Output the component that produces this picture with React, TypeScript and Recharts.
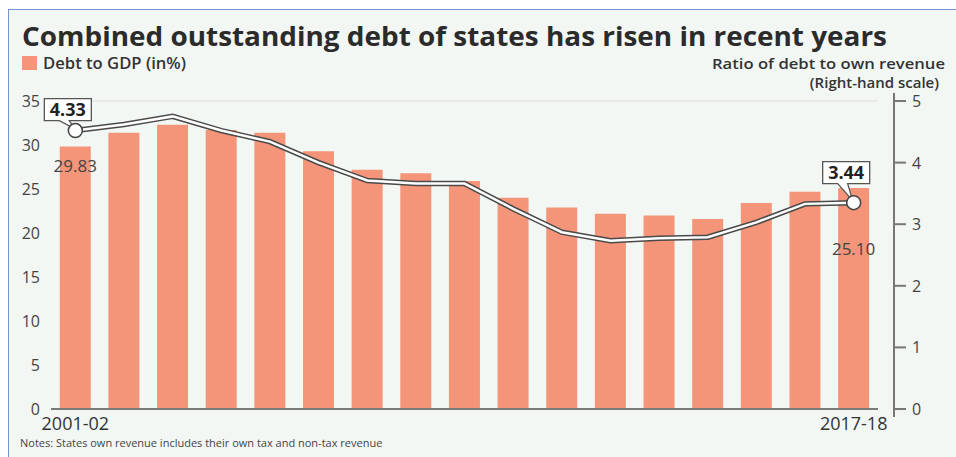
import React from "react";
import { ComposedChart, Bar, Line, XAxis, YAxis, CartesianGrid, LabelList } from "recharts";

const YEARS = [
  "2001-02", "2002-03", "2003-04", "2004-05", "2005-06", "2006-07", "2007-08", "2008-09", "2009-10",
  "2010-11", "2011-12", "2012-13", "2013-14", "2014-15", "2015-16", "2016-17", "2017-18",
];
// Debt to GDP (%), left scale
const DEBT_TO_GDP = [29.83, 31.4, 32.3, 31.7, 31.4, 29.3, 27.2, 26.8, 25.9, 24.0, 22.9, 22.2, 22.0, 21.6, 23.4, 24.7, 25.1];
// ratio of debt to own revenue, right scale (as drawn)
const DEBT_TO_REVENUE = [4.52, 4.62, 4.75, 4.52, 4.34, 4.0, 3.71, 3.66, 3.66, 3.25, 2.87, 2.73, 2.77, 2.79, 3.03, 3.33, 3.35];

const LEFT_TICKS = [0, 5, 10, 15, 20, 25, 30, 35];
const RIGHT_TICKS = [0, 1, 2, 3, 4, 5];
const X_TICKS = ["2001-02", "2017-18"];
const BAR_LABELS = [
  { index: 0, text: "29.83" },
  { index: 16, text: "25.10" },
];
const CALLOUTS = [
  { index: 0, text: "4.33" },
  { index: 16, text: "3.44" },
];

const W = 956;
const H = 457;
const PLOT = { left: 51, right: 878, top: 101, bottom: 409 };
const BAR_COLOR = "#f4957a";
const FONT = "'Open Sans', 'Noto Sans', sans-serif";

const data = YEARS.map((year, i) => ({
  year,
  gdp: DEBT_TO_GDP[i],
  ratio: DEBT_TO_REVENUE[i],
}));

// label offsets below the bar top, by index
const barLabelDy: Record<number, number> = { 0: 26, 16: 67 };
// lift of the callout box bottom above the point, by index
const calloutLift: Record<number, number> = { 0: 10, 16: 19 };

function BarValueLabel(props: any) {
  const { x, y, width, index } = props;
  const item = BAR_LABELS.find((b) => b.index === index);
  if (!item) return null;
  return (
    <text x={x + width / 2} y={y + barLabelDy[index]} textAnchor="middle" fontSize={17} fill="#444" fontFamily={FONT}>
      {item.text}
    </text>
  );
}

function Callout(props: any) {
  const { x, y, index } = props;
  const item = CALLOUTS.find((c) => c.index === index);
  if (!item) return null;
  const bw = 47;
  const bh = 22;
  const bx = x - 31;
  const bottom = y - calloutLift[index];
  const top = bottom - bh;
  const path = `M${bx},${top} H${bx + bw} V${bottom} H${x - 6} L${x - 1},${y - 2} L${x - 16},${bottom} H${bx} Z`;
  return (
    <g>
      <path d={path} fill="#fff" stroke="#555" strokeWidth={1.3} />
      <text x={bx + bw / 2} y={bottom - 5} textAnchor="middle" fontSize={18} fontWeight={700} fill="#222" fontFamily={FONT}>
        {item.text}
      </text>
      <circle cx={x} cy={y} r={7} fill="#fff" stroke="#444" strokeWidth={1.5} />
    </g>
  );
}

function XTick(props: any) {
  const { x, y, payload } = props;
  if (!X_TICKS.includes(payload.value)) return null;
  return (
    <text x={x} y={y} dy={13} textAnchor="middle" fontSize={18} fill="#333" fontFamily={FONT}>
      {payload.value}
    </text>
  );
}

function RightTick(props: any) {
  const { x, y, payload } = props;
  return (
    <g>
      <line x1={x + 15} x2={x + 28} y1={y} y2={y} stroke="#777" strokeWidth={2} />
      <text x={x + 34} y={y} dy={6} fontSize={16} fill="#444" fontFamily={FONT}>
        {payload.value}
      </text>
    </g>
  );
}

export default function App() {
  return (
    <div style={{ position: "fixed", left: 0, top: 0, width: W, height: H, overflow: "hidden", background: "#fff", fontFamily: FONT }}>
      <style>{"html,body{margin:0;overflow:hidden}"}</style>
      <div
        style={{
          position: "absolute",
          left: 8,
          top: 9,
          width: W,
          height: H,
          background: "#f3f7f4",
          borderLeft: "1.5px solid #7196cf",
          borderTop: "1.5px solid #7196cf",
        }}
      />
      <div style={{ position: "absolute", left: 0, top: 0 }}>
        <ComposedChart
          width={W}
          height={H}
          data={data}
          margin={{ top: PLOT.top, right: W - PLOT.right - 60, bottom: H - PLOT.bottom - 30, left: 0 }}
          barCategoryGap="18%"
        >
          <CartesianGrid vertical={false} stroke="#dcdedc" strokeWidth={1.2} />
          <XAxis
            dataKey="year"
            height={30}
            interval={0}
            tickLine={false}
            axisLine={{ stroke: "#7a7a7a", strokeWidth: 2 }}
            tick={<XTick />}
          />
          <YAxis
            yAxisId="left"
            width={51}
            domain={[0, 35]}
            ticks={LEFT_TICKS}
            axisLine={false}
            tickLine={false}
            tickMargin={5}
            tick={{ fill: "#444", fontSize: 16 }}
          />
          <YAxis
            yAxisId="right"
            orientation="right"
            width={60}
            domain={[0, 5]}
            ticks={RIGHT_TICKS}
            axisLine={false}
            tickLine={false}
            tickSize={0}
            tickMargin={0}
            tick={<RightTick />}
          />
          <Bar yAxisId="left" dataKey="gdp" fill={BAR_COLOR} isAnimationActive={false}>
            <LabelList dataKey="gdp" content={<BarValueLabel />} />
          </Bar>
          <Line
            yAxisId="right"
            dataKey="ratio"
            type="linear"
            stroke="#4a4a4a"
            strokeWidth={5.5}
            dot={false}
            activeDot={false}
            isAnimationActive={false}
          />
          <Line
            yAxisId="right"
            dataKey="ratio"
            type="linear"
            stroke="#ffffff"
            strokeWidth={2.5}
            dot={false}
            activeDot={false}
            isAnimationActive={false}
          >
            <LabelList dataKey="ratio" content={<Callout />} />
          </Line>
        </ComposedChart>
      </div>
      <svg width={W} height={H} style={{ position: "absolute", left: 0, top: 0, pointerEvents: "none" }}>
        <text x={22} y={46} fontSize={27} fontWeight={700} fill="#2b2b2b" textLength={865} lengthAdjust="spacingAndGlyphs">
          Combined outstanding debt of states has risen in recent years
        </text>
        <rect x={22} y={56} width={15} height={14} fill={BAR_COLOR} />
        <text x={43} y={69} fontSize={16} fontWeight={600} fill="#333" textLength={143} lengthAdjust="spacingAndGlyphs">
          Debt to GDP (in%)
        </text>
        <text x={945} y={69} fontSize={15} fontWeight={600} fill="#333" textAnchor="end" textLength={233} lengthAdjust="spacingAndGlyphs">
          Ratio of debt to own revenue
        </text>
        <text x={939} y={88} fontSize={15} fontWeight={600} fill="#333" textAnchor="end">
          (Right-hand scale)
        </text>
        <line x1={PLOT.right + 16} x2={PLOT.right + 16} y1={PLOT.top - 8} y2={PLOT.bottom + 8} stroke="#777" strokeWidth={2} />
        <text x={20} y={447} fontSize={11} fill="#444">
          Notes: States own revenue includes their own tax and non-tax revenue
        </text>
      </svg>
    </div>
  );
}
